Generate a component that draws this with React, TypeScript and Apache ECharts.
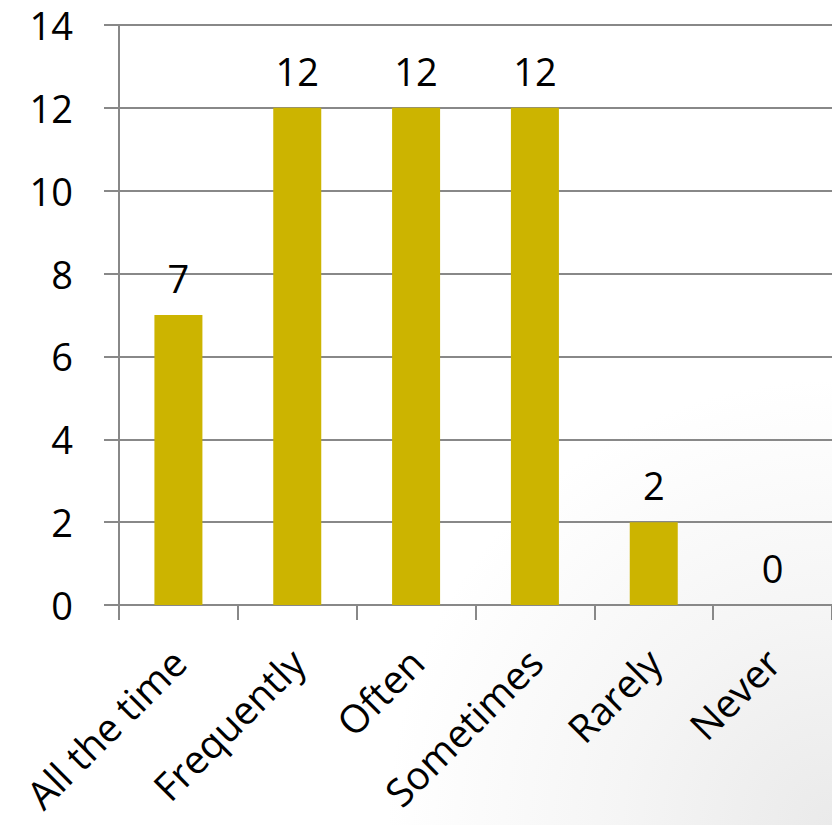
import React, { useEffect, useRef } from "react";
import * as echarts from "echarts";

const categories = ["All the time", "Frequently", "Often", "Sometimes", "Rarely", "Never"];
const values = [7, 12, 12, 12, 2, 0];
const yMin = 0;
const yMax = 14;
const yInterval = 2;

export default function App() {
  const ref = useRef<HTMLDivElement>(null);
  useEffect(() => {
    if (!ref.current) return;
    const chart = echarts.init(ref.current, null, { renderer: "svg" });
    const font = "'Open Sans', 'Liberation Sans', sans-serif";
    const lineColor = "#888888";
    chart.setOption({
      animation: false,
      textStyle: { fontFamily: font },
      grid: { left: 119, top: 25, width: 714, height: 580, containLabel: false },
      xAxis: {
        type: "category",
        data: categories,
        boundaryGap: true,
        axisLine: { show: true, lineStyle: { color: lineColor, width: 2 } },
        axisTick: { show: true, length: 15, inside: false, alignWithLabel: false, lineStyle: { color: lineColor, width: 2 } },
        axisLabel: { rotate: 45, margin: 50, fontSize: 39, color: "#000", fontFamily: font, interval: 0 },
        splitLine: { show: false },
      },
      yAxis: {
        type: "value",
        min: yMin,
        max: yMax,
        interval: yInterval,
        axisLine: { show: true, lineStyle: { color: lineColor, width: 2 } },
        axisTick: { show: true, length: 15, inside: false, lineStyle: { color: lineColor, width: 2 } },
        axisLabel: { margin: 46, fontSize: 38, color: "#000", fontFamily: font },
        splitLine: { show: true, lineStyle: { color: lineColor, width: 2 } },
      },
      series: [
        {
          type: "bar",
          data: values,
          barWidth: 48,
          itemStyle: { color: "#CCB400" },
          label: { show: true, position: "top", distance: 18, fontSize: 38, color: "#000", fontFamily: font },
        },
      ],
    });
    return () => chart.dispose();
  }, []);
  return (
    <div
      style={{
        position: "absolute",
        left: 0,
        top: 0,
        width: 832,
        height: 825,
        overflow: "hidden",
        background: "radial-gradient(circle at 100% 100%, #eaeaea 0%, #f5f5f5 18%, #ffffff 38%)",
      }}
    >
      <div ref={ref} style={{ width: 832, height: 825 }} />
    </div>
  );
}
